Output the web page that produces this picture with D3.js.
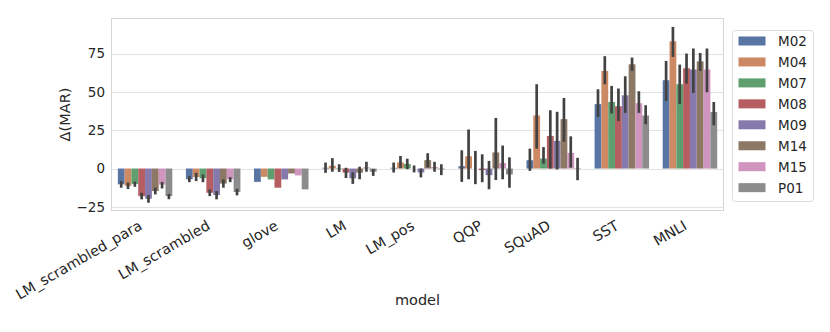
<!DOCTYPE html>
<html lang="en">
<head>
    <meta charset="UTF-8">
    <title>Delta MAR by model</title>
    <script src="https://d3js.org/d3.v7.min.js"></script>
    <style>
        body { margin: 0; background: #fff; }
        text { font-family: "DejaVu Sans", sans-serif; fill: #262626; }
    </style>
</head>
<body>
    <svg id="chart" width="830" height="332"></svg>

    <script>
        // categories on the x axis and the hue levels
        const categories = ['LM_scrambled_para', 'LM_scrambled', 'glove', 'LM', 'LM_pos', 'QQP', 'SQuAD', 'SST', 'MNLI'];
        const models = ['M02', 'M04', 'M07', 'M08', 'M09', 'M14', 'M15', 'P01'];
        const colors = ['#5975a4', '#cc8963', '#5f9e6e', '#b55d60', '#857aab', '#8d7866', '#d095bf', '#8c8c8c'];
        const yTicks = [-25, 0, 25, 50, 75];

        // mean delta MAR per model, one value per category
        const M02 = [-10.3, -7.0, -8.7, 0.5, 0.5, 1.5, 5.4, 42.0, 57.6];
        const M04 = [-11.3, -5.5, -5.4, 1.8, 4.0, 8.0, 34.6, 63.7, 83.0];
        const M07 = [-10.0, -6.3, -7.1, 0.3, 3.0, 0.0, 6.5, 43.4, 55.0];
        const M08 = [-18.0, -15.8, -12.5, -2.7, 0.0, -1.0, 21.2, 40.6, 65.4];
        const M09 = [-19.7, -17.3, -7.1, -6.4, -2.5, -4.3, 18.0, 47.8, 64.6];
        const M14 = [-14.7, -9.8, -3.2, -2.7, 5.5, 10.5, 32.2, 68.0, 69.9];
        const M15 = [-10.5, -7.0, -4.5, 0.8, 1.0, 3.6, 10.2, 42.6, 64.6];
        const P01 = [-18.0, -15.3, -13.6, -2.1, -0.5, -3.9, -0.3, 34.6, 36.9];

        // confidence interval ends (glove has none)
        const M02_lo = [-12.5, -8.9, -8.7, -2.8, -2.6, -8.7, -1.5, 33.7, 44.1];
        const M02_hi = [-8.2, -5.0, -8.7, 3.9, 3.9, 11.9, 13.0, 51.7, 70.2];
        const M04_lo = [-13.4, -8.2, -5.4, -2.1, 0.2, -7.0, 13.0, 55.0, 72.8];
        const M04_hi = [-9.1, -2.8, -5.4, 6.8, 8.2, 25.5, 55.0, 73.3, 92.4];
        const M07_lo = [-11.9, -8.9, -7.1, -2.2, -0.4, -10.2, 3.2, 35.9, 42.0];
        const M07_hi = [-8.5, -3.9, -7.1, 2.8, 6.4, 11.5, 14.0, 53.9, 67.8];
        const M08_lo = [-20.1, -18.0, -12.5, -6.2, -2.5, -8.9, 0.0, 31.0, 55.4];
        const M08_hi = [-15.8, -13.6, -12.5, 0.5, 2.0, 9.3, 38.0, 52.2, 75.0];
        const M09_lo = [-22.3, -20.1, -7.1, -10.0, -5.8, -13.5, -0.6, 36.3, 49.3];
        const M09_hi = [-17.3, -14.7, -7.1, -2.5, 0.0, 5.0, 37.0, 60.2, 78.3];
        const M14_lo = [-16.9, -12.5, -3.2, -7.0, 0.8, -7.5, 17.5, 63.7, 63.7];
        const M14_hi = [-12.5, -7.1, -3.2, 1.2, 10.0, 33.0, 46.0, 72.4, 75.4];
        const M15_lo = [-13.0, -8.9, -4.5, -2.1, -2.1, -7.0, 0.6, 36.3, 49.8];
        const M15_hi = [-8.7, -5.6, -4.5, 4.4, 4.4, 15.0, 21.0, 50.4, 78.3];
        const P01_lo = [-20.0, -17.5, -13.6, -4.8, -4.3, -12.5, -7.6, 28.9, 28.2];
        const P01_hi = [-16.5, -13.2, -13.6, -0.3, 2.8, 7.3, 7.0, 41.3, 43.4];

        const means = [M02, M04, M07, M08, M09, M14, M15, P01];
        const lows = [M02_lo, M04_lo, M07_lo, M08_lo, M09_lo, M14_lo, M15_lo, P01_lo];
        const highs = [M02_hi, M04_hi, M07_hi, M08_hi, M09_hi, M14_hi, M15_hi, P01_hi];

        // flatten into one row per bar
        const rows = [];
        models.forEach((m, mi) => {
            categories.forEach((c, ci) => {
                rows.push({ model: m, cat: c, value: means[mi][ci], lo: lows[mi][ci], hi: highs[mi][ci], color: colors[mi] });
            });
        });

        const svg = d3.select('#chart');
        const plot = { left: 111, right: 724, top: 18, bottom: 211 };

        const x = d3.scaleBand()
            .domain(categories)
            .range([plot.left, plot.right])
            .padding(0);

        // seaborn uses 80% of each category for the hue group
        const xHue = d3.scaleBand()
            .domain(models)
            .range([x.bandwidth() * 0.1, x.bandwidth() * 0.9])
            .padding(0);

        const y = d3.scaleLinear()
            .domain([-27.7, 98.2])
            .range([plot.bottom, plot.top]);

        // horizontal grid lines
        svg.append('g')
            .selectAll('line')
            .data(yTicks)
            .enter().append('line')
            .attr('x1', plot.left)
            .attr('x2', plot.right)
            .attr('y1', d => Math.round(y(d)) + 0.5)
            .attr('y2', d => Math.round(y(d)) + 0.5)
            .attr('stroke', '#e3e3e3')
            .attr('stroke-width', 1);

        // bars
        svg.append('g')
            .selectAll('rect')
            .data(rows)
            .enter().append('rect')
            .attr('x', d => x(d.cat) + xHue(d.model))
            .attr('width', xHue.bandwidth())
            .attr('y', d => y(Math.max(0, d.value)))
            .attr('height', d => Math.abs(y(d.value) - y(0)))
            .attr('fill', d => d.color);

        // error bars
        svg.append('g')
            .selectAll('line')
            .data(rows.filter(d => d.hi > d.lo))
            .enter().append('line')
            .attr('x1', d => x(d.cat) + xHue(d.model) + xHue.bandwidth() / 2)
            .attr('x2', d => x(d.cat) + xHue(d.model) + xHue.bandwidth() / 2)
            .attr('y1', d => y(d.lo))
            .attr('y2', d => y(d.hi))
            .attr('stroke', '#424242')
            .attr('stroke-width', 2.7);

        // frame around the axes
        svg.append('rect')
            .attr('x', plot.left + 0.5)
            .attr('y', plot.top + 0.5)
            .attr('width', plot.right - plot.left - 1)
            .attr('height', plot.bottom - plot.top - 1)
            .attr('fill', 'none')
            .attr('stroke', '#d6d6d6')
            .attr('stroke-width', 1);

        // y axis tick labels
        const yAxis = svg.append('g')
            .attr('transform', `translate(${plot.left},0)`)
            .call(d3.axisLeft(y).tickValues(yTicks).tickSize(0).tickPadding(6)
                .tickFormat(d => d < 0 ? '\u2212' + Math.abs(d) : d));
        yAxis.select('.domain').remove();
        yAxis.selectAll('text')
            .style('font-family', '"DejaVu Sans", sans-serif')
            .style('font-size', '13.5px')
            .attr('fill', '#262626');

        // x axis tick labels, rotated 30 degrees
        svg.append('g')
            .selectAll('text')
            .data(categories)
            .enter().append('text')
            .attr('transform', d => `translate(${x(d) + x.bandwidth() / 2 - 2},228.5) rotate(-30)`)
            .style('text-anchor', 'end')
            .style('font-size', '14.4px')
            .text(d => d);

        // axis titles
        svg.append('text')
            .attr('x', (plot.left + plot.right) / 2)
            .attr('y', 305)
            .style('text-anchor', 'middle')
            .style('font-size', '14.5px')
            .text('model');

        svg.append('text')
            .attr('transform', `translate(70,${(plot.top + plot.bottom) / 2}) rotate(-90)`)
            .style('text-anchor', 'middle')
            .style('font-size', '14.5px')
            .text('\u0394(MAR)');

        // legend box
        const legend = svg.append('g').attr('transform', 'translate(732.5,30.5)');
        legend.append('rect')
            .attr('width', 81)
            .attr('height', 171)
            .attr('rx', 3)
            .attr('fill', '#fff')
            .attr('stroke', '#dcdcdc')
            .attr('stroke-width', 1);

        const legendItem = legend.selectAll('.legend-item')
            .data(models)
            .enter().append('g')
            .attr('class', 'legend-item')
            .attr('transform', (d, i) => `translate(0,${10.5 + i * 20.95})`);

        legendItem.append('rect')
            .attr('x', 6)
            .attr('y', -4.5)
            .attr('width', 27)
            .attr('height', 9)
            .attr('fill', (d, i) => colors[i]);

        legendItem.append('text')
            .attr('x', 45.5)
            .attr('dy', '0.36em')
            .style('font-size', '13.5px')
            .text(d => d);
    </script>
</body>
</html>
